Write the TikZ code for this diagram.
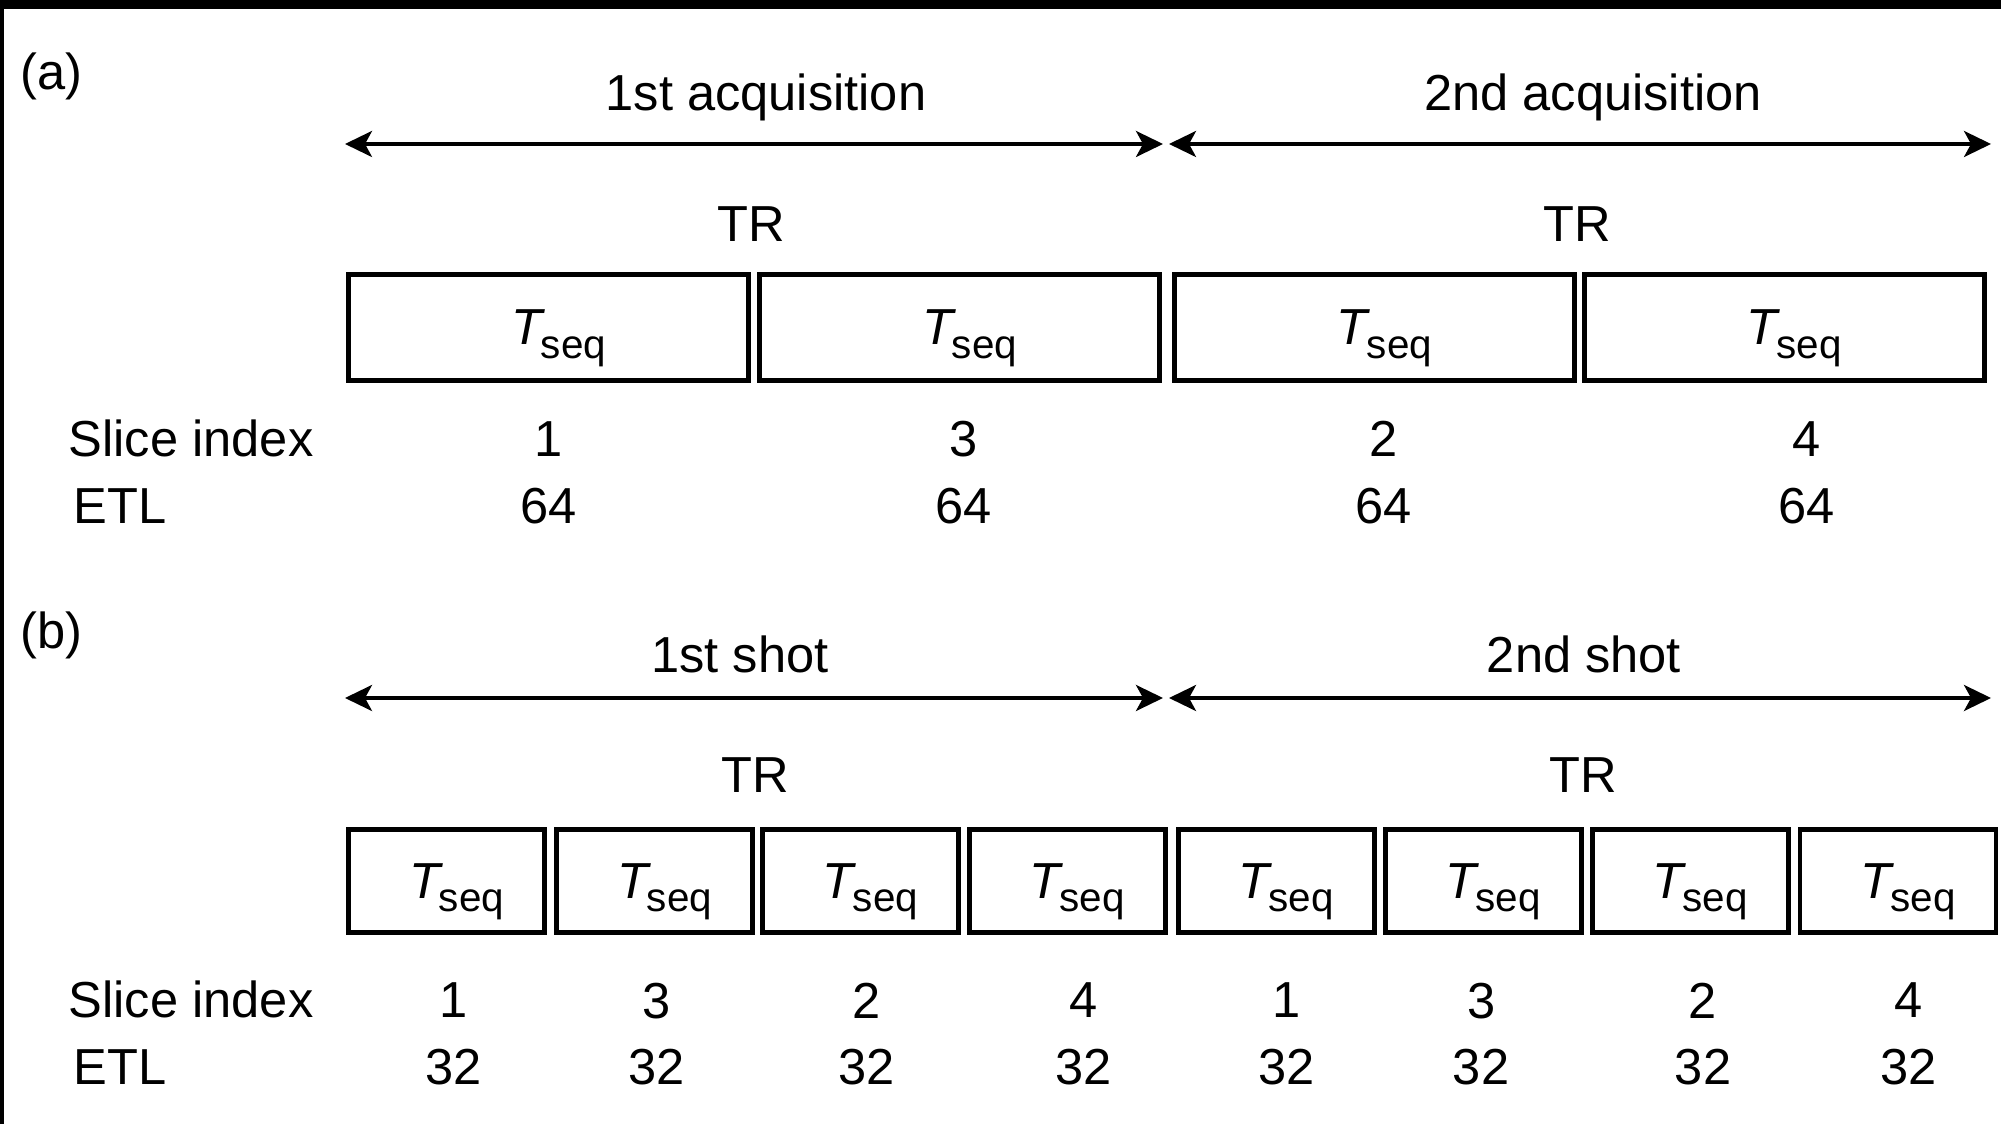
\documentclass[tikz,border=0pt]{standalone}
\usepackage{fontspec}
\setmainfont{Liberation Sans}
\usetikzlibrary{positioning,arrows.meta}
\newcommand{\Tseq}{\kern0.4em\textit{T}\kern-0.08em\raisebox{-0.26em}[0pt][0pt]{\fontsize{11.5}{12}\selectfont seq}}

\begin{document}
\begin{tikzpicture}[
    every node/.style={font=\fontsize{14.4}{17}\selectfont},
    box/.style={draw,line width=1.4pt,inner sep=0pt,minimum height=1.06cm,minimum width=4.00cm},
    smallbox/.style={box,minimum height=1.03cm,minimum width=1.96cm},
    lbl/.style={inner sep=0pt,text depth=0pt},
    span/.style={{Stealth[length=0.27cm,width=0.26cm,inset=0.07cm]}-{Stealth[length=0.27cm,width=0.26cm,inset=0.07cm]},line width=1pt}
  ]
    \useasboundingbox (0,0) rectangle (20.01,-11.24);
    \fill (0,0) rectangle (20.01,-0.09);
    \fill (0,0) rectangle (0.04,-11.24);

    % (a) two acquisitions
    \node[lbl,anchor=base west] (pa) at (0.20,-0.90) {(a)};
    \node[box] (a1) at (5.485,-3.275) {\Tseq};
    \node[box,right=0.06cm of a1] (a2) {\Tseq};
    \node[box,right=0.10cm of a2] (a3) {\Tseq};
    \node[box,right=0.05cm of a3] (a4) {\Tseq};
    \node[lbl,above=0.30cm of a1.north east] (tra1) {TR};
    \node[lbl,above=0.30cm of a3.north east] (tra2) {TR};
    \node[lbl,below=0.38cm of a1] (sa1) {1};
    \node[lbl,below=0.38cm of a2,xshift=0.04cm] (sa2) {3};
    \node[lbl,below=0.38cm of a3,xshift=0.09cm] (sa3) {2};
    \node[lbl,below=0.38cm of a4,xshift=0.22cm] (sa4) {4};
    \node[lbl,below=0.30cm of sa1] (ea1) {64};
    \node[lbl,below=0.30cm of sa2] (ea2) {64};
    \node[lbl,below=0.30cm of sa3] (ea3) {64};
    \node[lbl,below=0.30cm of sa4] (ea4) {64};
    \node[lbl,anchor=base west] (slia) at (0.68,0 |- sa1.base) {Slice index};
    \node[lbl,anchor=base west] (etla) at (0.73,0 |- ea1.base) {ETL};
    \coordinate (aL) at (3.45,-1.44);
    \coordinate (aM) at (11.63,-1.44);
    \coordinate (aN) at (11.69,-1.44);
    \coordinate (aR) at (19.91,-1.44);
    \draw[span] (aL) -- node[lbl,above=0.32cm,xshift=0.12cm] {1st acquisition} (aM);
    \draw[span] (aN) -- node[lbl,above=0.32cm,xshift=0.13cm] {2nd acquisition} (aR);

    % (b) two shots
    \node[lbl,anchor=base west] (pb) at (0.20,-6.49) {(b)};
    \node[smallbox] (b1) at (4.465,-8.81) {\Tseq};
    \node[smallbox,right=0.07cm of b1] (b2) {\Tseq};
    \node[smallbox,right=0.05cm of b2] (b3) {\Tseq};
    \node[smallbox,right=0.06cm of b3] (b4) {\Tseq};
    \node[smallbox,right=0.08cm of b4] (b5) {\Tseq};
    \node[smallbox,right=0.06cm of b5] (b6) {\Tseq};
    \node[smallbox,right=0.06cm of b6] (b7) {\Tseq};
    \node[smallbox,right=0.07cm of b7] (b8) {\Tseq};
    \node[lbl,above=0.34cm of b2.north east] (trb1) {TR};
    \node[lbl,above=0.34cm of b6.north east] (trb2) {TR};
    \node[lbl,below=0.47cm of b1,xshift=0.07cm] (sb1) {1};
    \node[lbl,below=0.47cm of b2,xshift=0.02cm] (sb2) {3};
    \node[lbl,below=0.47cm of b3,xshift=0.06cm] (sb3) {2};
    \node[lbl,below=0.47cm of b4,xshift=0.16cm] (sb4) {4};
    \node[lbl,below=0.47cm of b5,xshift=0.10cm] (sb5) {1};
    \node[lbl,below=0.47cm of b6,xshift=-0.02cm] (sb6) {3};
    \node[lbl,below=0.47cm of b7,xshift=0.13cm] (sb7) {2};
    \node[lbl,below=0.47cm of b8,xshift=0.11cm] (sb8) {4};
    \node[lbl,below=0.30cm of sb1] (eb1) {32};
    \node[lbl,below=0.30cm of sb2] (eb2) {32};
    \node[lbl,below=0.30cm of sb3] (eb3) {32};
    \node[lbl,below=0.30cm of sb4] (eb4) {32};
    \node[lbl,below=0.30cm of sb5] (eb5) {32};
    \node[lbl,below=0.30cm of sb6] (eb6) {32};
    \node[lbl,below=0.30cm of sb7] (eb7) {32};
    \node[lbl,below=0.30cm of sb8] (eb8) {32};
    \node[lbl,anchor=base west] (slib) at (0.68,0 |- sb1.base) {Slice index};
    \node[lbl,anchor=base west] (etlb) at (0.73,0 |- eb1.base) {ETL};
    \coordinate (bL) at (3.45,-6.98);
    \coordinate (bM) at (11.63,-6.98);
    \coordinate (bN) at (11.69,-6.98);
    \coordinate (bR) at (19.91,-6.98);
    \draw[span] (bL) -- node[lbl,above=0.24cm,xshift=-0.14cm] {1st shot} (bM);
    \draw[span] (bN) -- node[lbl,above=0.24cm,xshift=0.04cm] {2nd shot} (bR);
  \end{tikzpicture}
\end{document}
